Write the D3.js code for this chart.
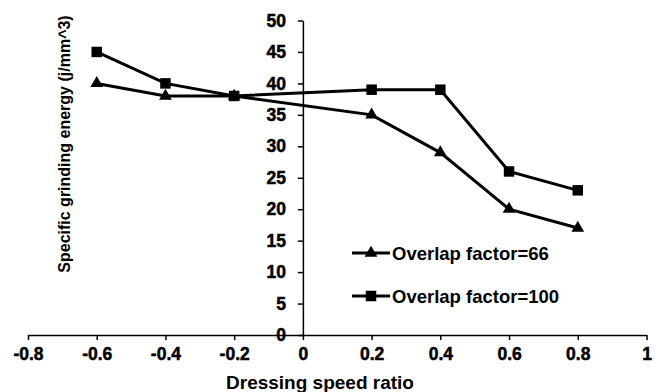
<!DOCTYPE html>
<html><head><meta charset="utf-8">
<script src="https://cdn.jsdelivr.net/npm/d3@7/dist/d3.min.js"></script>
<style>body{margin:0;background:#fff}svg{display:block}text{font-family:"Liberation Sans",Arial,sans-serif;font-weight:bold;fill:#000}</style>
</head><body><svg id="c" width="662" height="392"></svg>
<script>
const xValues = [-0.6, -0.4, -0.2, 0.2, 0.4, 0.6, 0.8];
const overlap66 = [40, 38, 38, 35, 29, 20, 17];
const overlap100 = [45, 40, 38, 39, 39, 26, 23];
const seriesNames = ["Overlap factor=66", "Overlap factor=100"];
const xTicks = [-0.8, -0.6, -0.4, -0.2, 0, 0.2, 0.4, 0.6, 0.8, 1];
const yTicks = [0, 5, 10, 15, 20, 25, 30, 35, 40, 45, 50];

const svg = d3.select("#c");
const x = d3.scaleLinear().domain([-0.8, 1]).range([28, 646.5]);
const y = d3.scaleLinear().domain([0, 50]).range([335, 20.5]);

// X axis
const xa = svg.append("g").attr("transform", `translate(0,${y(0)})`)
  .call(d3.axisBottom(x).tickValues(xTicks).tickSize(5).tickSizeOuter(0).tickFormat(d => String(d)));
xa.select(".domain").attr("stroke", "#000").attr("stroke-width", 1.5);
xa.selectAll(".tick line").attr("stroke", "#000").attr("stroke-width", 1.5);
xa.selectAll("text").attr("font-size", 17.5).attr("y", 12).attr("dy", "0.72em");

// Y axis
const ya = svg.append("g").attr("transform", `translate(${x(0)},0)`)
  .call(d3.axisLeft(y).tickValues(yTicks).tickSize(5).tickSizeOuter(0).tickFormat(d => String(d)));
ya.select(".domain").attr("stroke", "#000").attr("stroke-width", 1.5);
ya.selectAll(".tick line").attr("stroke", "#000").attr("stroke-width", 1.5);
ya.selectAll("text").attr("font-size", 17.5).attr("x", -17);
svg.selectAll("g").attr("font-family", null).attr("font-size", null);
svg.selectAll(".tick text").attr("font-family", "Liberation Sans, Arial, sans-serif").attr("font-weight", "bold")
  .attr("stroke", "#000").attr("stroke-width", 0.5);

// titles
svg.append("text").attr("x", 320).attr("y", 389).attr("text-anchor", "middle").attr("font-size", 19).text("Dressing speed ratio");
svg.append("text").attr("transform", "translate(70,144) rotate(-90)").attr("text-anchor", "middle").attr("font-size", 16).text("Specific grinding energy (j/mm^3)");

const line = d3.line().x(d => x(d[0])).y(d => y(d[1]));
const data66 = xValues.map((v, i) => [v, overlap66[i]]);
const data100 = xValues.map((v, i) => [v, overlap100[i]]);

const tri = d3.symbol().type(d3.symbolTriangle).size(70);
const sq = d3.symbol().type(d3.symbolSquare).size(110);

function drawSeries(data, sym) {
  svg.append("path").attr("d", line(data)).attr("fill", "none").attr("stroke", "#000").attr("stroke-width", 3);
  svg.selectAll(null).data(data).enter().append("path")
    .attr("transform", d => `translate(${x(d[0])},${y(d[1])})`)
    .attr("d", sym).attr("fill", "#000");
}
drawSeries(data66, tri);
drawSeries(data100, sq);

// legend
const legend = [[seriesNames[0], tri, 253], [seriesNames[1], sq, 296]];
legend.forEach(([name, sym, ly]) => {
  svg.append("line").attr("x1", 352).attr("x2", 390).attr("y1", ly).attr("y2", ly).attr("stroke", "#000").attr("stroke-width", 3);
  svg.append("path").attr("transform", `translate(371,${ly})`).attr("d", sym).attr("fill", "#000");
  svg.append("text").attr("x", 392).attr("y", ly).attr("dy", "0.36em").attr("font-size", 18.5).text(name);
});
</script></body></html>
